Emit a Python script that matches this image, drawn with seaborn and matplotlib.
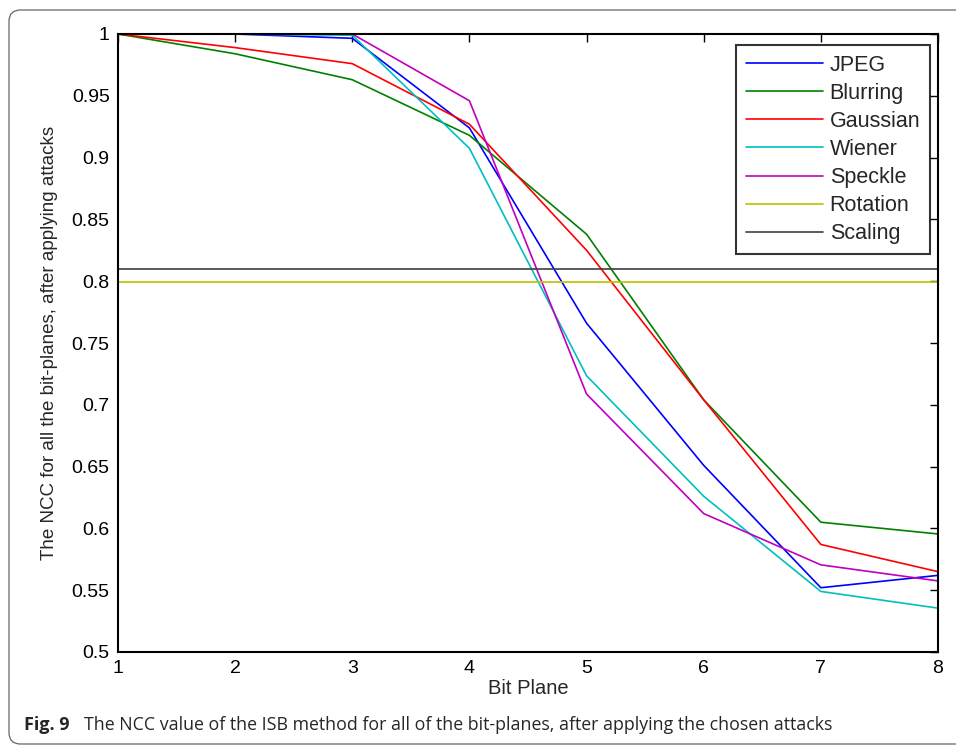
import numpy as np
import pandas as pd
import matplotlib
matplotlib.use("Agg")
import matplotlib.pyplot as plt
from matplotlib.patches import FancyBboxPatch
import seaborn as sns

bit_planes = [1, 2, 3, 4, 5, 6, 7, 8]
jpeg     = [1.0, 1.0, 0.9965, 0.924, 0.766, 0.651, 0.552, 0.562]
blurring = [1.0, 0.984, 0.963, 0.918, 0.838, 0.704, 0.605, 0.5955]
gaussian = [1.0, 0.989, 0.976, 0.927, 0.825, 0.704, 0.587, 0.565]
wiener   = [1.0, 1.0, 0.999, 0.9075, 0.7235, 0.626, 0.549, 0.5355]
speckle  = [1.0, 1.0, 1.0, 0.946, 0.7087, 0.612, 0.5705, 0.5575]
rotation = [0.7995] * 8
scaling  = [0.810] * 8

series_names = ["JPEG", "Blurring", "Gaussian", "Wiener", "Speckle", "Rotation", "Scaling"]
series_vals = [jpeg, blurring, gaussian, wiener, speckle, rotation, scaling]
colors = ["#0000ff", "#008000", "#ff0000", "#00bfbf", "#bf00bf", "#bfbf00", "#404040"]

rows = []
for name, vals in zip(series_names, series_vals):
    for x, v in zip(bit_planes, vals):
        rows.append({"Bit Plane": x, "NCC": v, "Attack": name})
df = pd.DataFrame(rows)

sns.set_style("white")
plt.rcParams["font.family"] = ["Liberation Sans", "DejaVu Sans"]

fig = plt.figure(figsize=(9.56, 7.47), dpi=100)
ax = fig.add_axes([118/956, 1 - 652/747, (938-118)/956, (652-34)/747])

sns.lineplot(data=df, x="Bit Plane", y="NCC", hue="Attack", hue_order=series_names,
             palette=colors, ax=ax, linewidth=1.2, legend=True)

ax.set_xlim(1, 8)
ax.set_ylim(0.5, 1.0)
ax.set_xticks(bit_planes)
ax.set_xticklabels([str(b) for b in bit_planes])
yt = [0.5, 0.55, 0.6, 0.65, 0.7, 0.75, 0.8, 0.85, 0.9, 0.95, 1.0]
ax.set_yticks(yt)
ax.set_yticklabels(["0.5", "0.55", "0.6", "0.65", "0.7", "0.75", "0.8", "0.85", "0.9", "0.95", "1"])
ax.tick_params(direction="in", top=True, right=True, length=6, width=1, labelsize=14, pad=6, colors="black")
for s in ax.spines.values():
    s.set_color("black")
    s.set_linewidth(1.5)
ax.set_xlabel("Bit Plane", fontsize=14.5, labelpad=1)
ax.set_ylabel("The NCC for all the bit-planes, after applying attacks", fontsize=13.5, labelpad=10)

leg = ax.legend(title=None, loc="upper right", fontsize=15.5, frameon=True, fancybox=False,
                edgecolor="black", handlelength=3.6, handletextpad=0.3, borderpad=0.45,
                labelspacing=0.33, borderaxespad=0,
                bbox_to_anchor=((930-118)/820, (652-45)/618))
leg.get_frame().set_linewidth(1.5)

# figure border (right side runs off the image)
border = FancyBboxPatch((9/956, 3/747), 1.2, 1 - 13/747, boxstyle="round,pad=0,rounding_size=0.012",
                        transform=fig.transFigure, fill=False, edgecolor="#666666", linewidth=0.9,
                        mutation_aspect=956/747)
fig.patches.append(border)

fig.text(24/956, 1 - 725/747, "Fig. 9", fontsize=13, fontweight="bold",
         family=["Open Sans", "DejaVu Sans"], va="center", ha="left")
fig.text(84/956, 1 - 725/747, "The NCC value of the ISB method for all of the bit-planes, after applying the chosen attacks",
         fontsize=12.8, family=["Open Sans", "DejaVu Sans"], va="center", ha="left")

fig.savefig("out.png", dpi=100)
